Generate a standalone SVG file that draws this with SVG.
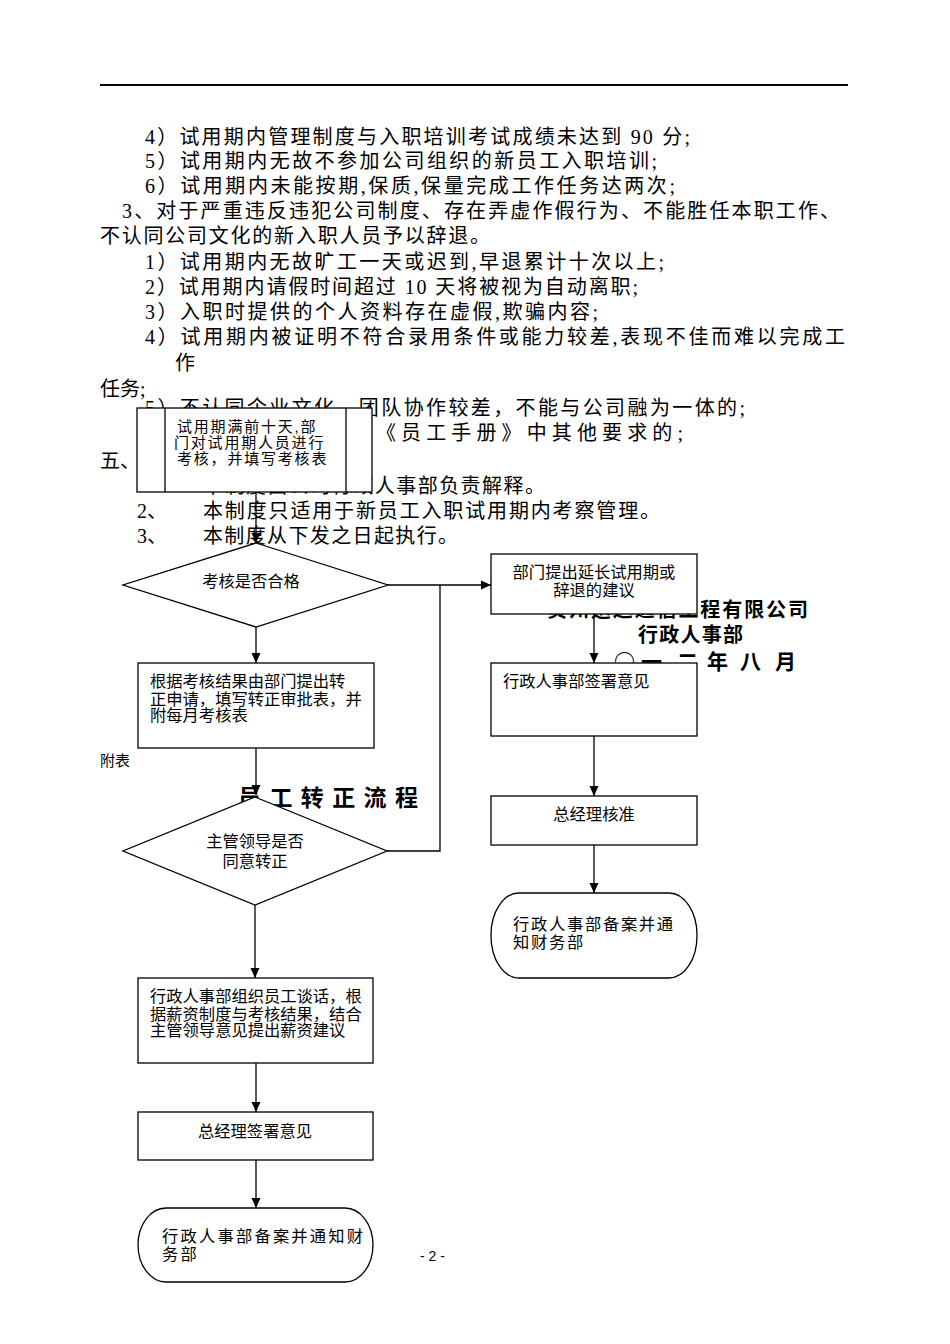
<svg xmlns="http://www.w3.org/2000/svg" width="950" height="1344" viewBox="0 0 950 1344">
<style>
.body{font-family:"Liberation Serif","Noto Sans CJK SC",serif;font-size:20px;fill:#000}
.bx{font-family:"Liberation Sans","Noto Sans CJK SC",sans-serif;font-size:16.3px;fill:#000}
.bxs{font-family:"Liberation Sans","Noto Sans CJK SC",sans-serif;font-size:15px;fill:#000}
.bold{font-family:"Liberation Sans","Noto Sans CJK SC",sans-serif;font-weight:bold;fill:#000}
.nd{fill:#fff;stroke:#000;stroke-width:1.3}
.ln{fill:none;stroke:#000;stroke-width:1.3}
.cn{fill:none;stroke:#000;stroke-width:1.3}
</style>
<defs>
<marker id="ah" viewBox="0 0 10 10" refX="10" refY="5" markerWidth="10" markerHeight="10" markerUnits="userSpaceOnUse" orient="auto">
<path d="M0,0.5 L10,5 L0,9.5 z" fill="#000"/>
</marker>
</defs>
<rect x="0" y="0" width="950" height="1344" fill="#fff"/>
<line x1="100" y1="85" x2="848" y2="85" stroke="#000" stroke-width="2"/>

<g id="body-text">
<text class="body" x="145" y="144" textLength="545" lengthAdjust="spacing">4）试用期内管理制度与入职培训考试成绩未达到 90 分;</text>
<text class="body" x="145" y="168" textLength="512" lengthAdjust="spacing">5）试用期内无故不参加公司组织的新员工入职培训;</text>
<text class="body" x="145" y="193" textLength="530" lengthAdjust="spacing">6）试用期内未能按期,保质,保量完成工作任务达两次;</text>
<text class="body" x="122" y="218" textLength="718" lengthAdjust="spacing">3、对于严重违反违犯公司制度、存在弄虚作假行为、不能胜任本职工作、</text>
<text class="body" x="100" y="243" textLength="390" lengthAdjust="spacing">不认同公司文化的新入职人员予以辞退。</text>
<text class="body" x="145" y="269" textLength="519" lengthAdjust="spacing">1）试用期内无故旷工一天或迟到,早退累计十次以上;</text>
<text class="body" x="145" y="294" textLength="493" lengthAdjust="spacing">2）试用期内请假时间超过 10 天将被视为自动离职;</text>
<text class="body" x="145" y="319" textLength="453" lengthAdjust="spacing">3）入职时提供的个人资料存在虚假,欺骗内容;</text>
<text class="body" x="145" y="344" textLength="700" lengthAdjust="spacing">4）试用期内被证明不符合录用条件或能力较差,表现不佳而难以完成工</text>
<text class="body" x="175" y="370">作</text>
<text class="body" x="100" y="396">任务;</text>
<text class="body" x="145" y="415" textLength="600" lengthAdjust="spacing">5）不认同企业文化，团队协作较差，不能与公司融为一体的;</text>
<text class="body" x="376" y="440" textLength="307" lengthAdjust="spacing">《员工手册》中其他要求的;</text>
<text class="body" x="100" y="468">五、</text>
<text class="body" x="203" y="493" textLength="342" lengthAdjust="spacing">本制度由公司行政人事部负责解释。</text>
<text class="body" x="137" y="518">2、</text>
<text class="body" x="203" y="518" textLength="457" lengthAdjust="spacing">本制度只适用于新员工入职试用期内考察管理。</text>
<text class="body" x="137" y="543">3、</text>
<text class="body" x="203" y="543" textLength="255" lengthAdjust="spacing">本制度从下发之日起执行。</text>
<text class="bxs" x="100" y="766">附表</text>
<text class="bold" x="238" y="806" font-size="23" textLength="180" lengthAdjust="spacing">员工转正流程</text>
<text class="bold" x="547" y="617" font-size="20" textLength="261" lengthAdjust="spacing">贵州迅达通信工程有限公司</text>
<text class="bold" x="638" y="642" font-size="20" textLength="105" lengthAdjust="spacing">行政人事部</text>
<text x="614 641 677 707 740 775" y="669" font-family="Noto Sans CJK SC, sans-serif" font-weight="bold" font-size="21" fill="#000">○一二年八月</text>
<text x="420" y="1261" font-family="Liberation Sans, sans-serif" font-size="14" fill="#000">- 2 -</text>
</g>

<g id="n-start">
<rect class="nd" x="137" y="408" width="235" height="84"/>
<line class="ln" x1="165" y1="408" x2="165" y2="492"/>
<line class="ln" x1="346" y1="408" x2="346" y2="492"/>
<text class="bxs" x="177" y="432" letter-spacing="1.8">试用期满前十天,部</text>
<text class="bxs" x="174" y="448" letter-spacing="1.8">门对试用期人员进行</text>
<text class="bxs" x="177" y="464" letter-spacing="1.8">考核，并填写考核表</text>
</g>

<g id="n-d1">
<polygon class="nd" points="256,543 388,585 256,627 123,585"/>
<text class="bx" x="251" y="587" text-anchor="middle">考核是否合格</text>
</g>

<g id="n-extend">
<rect class="nd" x="491" y="554" width="206" height="60"/>
<text class="bx" x="594" y="578" text-anchor="middle">部门提出延长试用期或</text>
<text class="bx" x="594" y="596" text-anchor="middle">辞退的建议</text>
</g>

<g id="n-apply">
<rect class="nd" x="138" y="663" width="236" height="85"/>
<text class="bx" x="150" y="687">根据考核结果由部门提出转</text>
<text class="bx" x="150" y="705">正申请，填写转正审批表，并</text>
<text class="bx" x="150" y="721">附每月考核表</text>
</g>

<g id="n-hrsign">
<rect class="nd" x="491" y="663" width="206" height="73"/>
<text class="bx" x="503" y="687">行政人事部签署意见</text>
</g>

<g id="n-gmapprove">
<rect class="nd" x="491" y="796" width="206" height="49"/>
<text class="bx" x="594" y="820" text-anchor="middle">总经理核准</text>
</g>

<g id="n-d2">
<polygon class="nd" points="255,797 387,851 255,905 123,851"/>
<text class="bx" x="255" y="847" text-anchor="middle">主管领导是否</text>
<text class="bx" x="255" y="867" text-anchor="middle">同意转正</text>
</g>

<g id="n-hrfile-right">
<rect class="nd" x="491" y="893" width="206" height="85" rx="28" ry="42"/>
<text class="bx" x="513" y="930" letter-spacing="1.7">行政人事部备案并通</text>
<text class="bx" x="513" y="948" letter-spacing="1.7">知财务部</text>
</g>

<g id="n-talk">
<rect class="nd" x="138" y="978" width="235" height="85"/>
<text class="bx" x="150" y="1002">行政人事部组织员工谈话，根</text>
<text class="bx" x="150" y="1020">据薪资制度与考核结果，结合</text>
<text class="bx" x="150" y="1036">主管领导意见提出薪资建议</text>
</g>

<g id="n-gmsign">
<rect class="nd" x="138" y="1112" width="235" height="48"/>
<text class="bx" x="255" y="1137" text-anchor="middle">总经理签署意见</text>
</g>

<g id="n-hrfile-left">
<rect class="nd" x="138" y="1208" width="235" height="74" rx="28" ry="37"/>
<text class="bx" x="162" y="1242" letter-spacing="2.2">行政人事部备案并通知财</text>
<text class="bx" x="162" y="1260" letter-spacing="2.2">务部</text>
</g>

<g id="connectors">
<path class="cn" d="M256,492 V543" marker-end="url(#ah)"/>
<path class="cn" d="M256,627 V663" marker-end="url(#ah)"/>
<path class="cn" d="M388,585 H491" marker-end="url(#ah)"/>
<path class="cn" d="M387,851 H440 V585"/>
<path class="cn" d="M256,748 V795" marker-end="url(#ah)"/>
<path class="cn" d="M255,905 V978" marker-end="url(#ah)"/>
<path class="cn" d="M256,1063 V1112" marker-end="url(#ah)"/>
<path class="cn" d="M256,1160 V1208" marker-end="url(#ah)"/>
<path class="cn" d="M594,614 V663" marker-end="url(#ah)"/>
<path class="cn" d="M594,736 V796" marker-end="url(#ah)"/>
<path class="cn" d="M594,845 V893" marker-end="url(#ah)"/>
</g>
</svg>
